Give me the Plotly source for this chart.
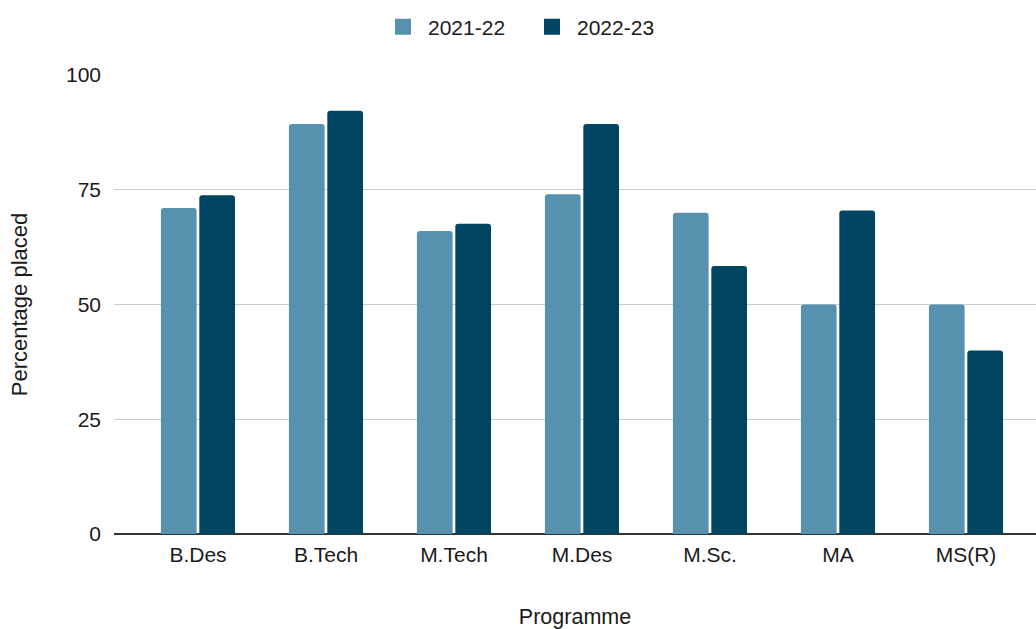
import plotly.graph_objects as go

programmes = ["B.Des", "B.Tech", "M.Tech", "M.Des", "M.Sc.", "MA", "MS(R)"]
y2021_22 = [71, 89.3, 66, 74, 70, 50, 50]
y2022_23 = [73.8, 92.2, 67.6, 89.3, 58.4, 70.5, 40]
series_names = ["2021-22", "2022-23"]
colors = ["#5891AD", "#004561"]
y_ticks = [0, 25, 50, 75, 100]

font_family = "Liberation Sans, Arial, sans-serif"
txt = "#1a1a1a"

fig = go.Figure()
for name, vals, col in zip(series_names, [y2021_22, y2022_23], colors):
    fig.add_trace(go.Bar(
        x=programmes, y=vals, name=name, legendgroup=name, showlegend=False,
        marker=dict(color=col, line=dict(width=0)),
    ))
# legend entries with larger square swatches
for name, col in zip(series_names, colors):
    fig.add_trace(go.Scatter(
        x=[None], y=[None], mode="markers", name=name, legendgroup=name,
        marker=dict(symbol="square", size=16, color=col),
    ))

fig.update_layout(
    width=1036, height=629,
    paper_bgcolor="white", plot_bgcolor="white",
    font=dict(family=font_family, size=21, color=txt),
    margin=dict(l=114, r=0, t=75, b=95, autoexpand=False),
    barmode="group", bargap=0.4, bargroupgap=0.07,
    barcornerradius=3,
    legend=dict(orientation="h", x=527 / 1036, xanchor="center", xref="container",
                y=1 - 27 / 629, yanchor="middle", yref="container",
                font=dict(size=21, color=txt),
                itemwidth=40, entrywidth=94, traceorder="normal"),
    xaxis=dict(
        range=[-0.656, 6.547], automargin=False,
        showgrid=False, showline=False, zeroline=False,
        ticks="", ticklabelstandoff=6, tickfont=dict(size=21, color=txt),
        title=dict(text="Programme", font=dict(size=21.5, color=txt), standoff=43),
    ),
    yaxis=dict(
        range=[0, 100], tickvals=y_ticks, automargin=True,
        showgrid=True, gridcolor="#CCCCCC", gridwidth=1.3,
        zeroline=True, zerolinecolor="#333333", zerolinewidth=2,
        showline=False, ticks="", ticklabelstandoff=12,
        tickfont=dict(size=21, color=txt),
        title=dict(text="Percentage placed", font=dict(size=22, color=txt), standoff=32),
    ),
)

fig.write_html("out.html", config={"displayModeBar": False},
               post_script="document.body.style.margin='0';")
